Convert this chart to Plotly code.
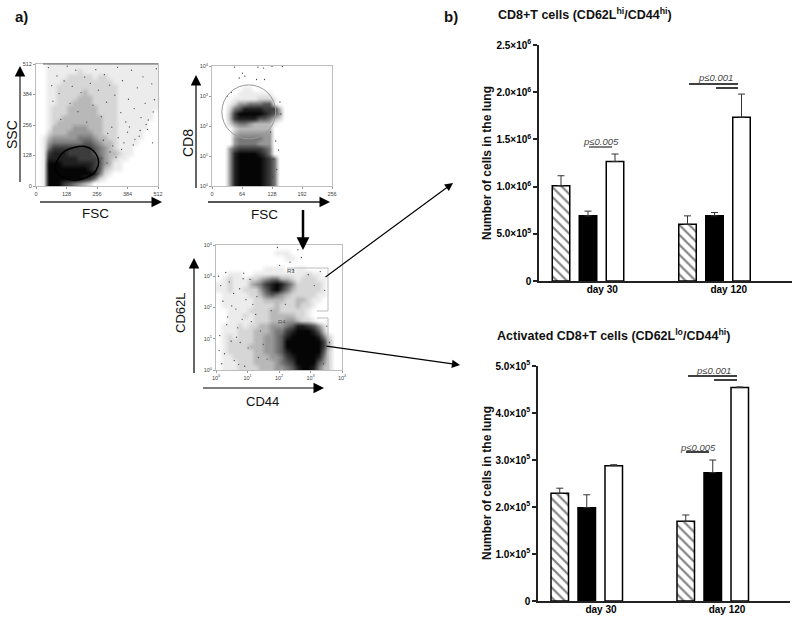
import plotly.graph_objects as go

W, H = 800, 619
FONT = "Liberation Sans"

# bar data
days = ["day 30", "day 120"]

memory_hatched = [1.01e6, 0.60e6]
memory_hatched_err = [0.105e6, 0.09e6]
memory_black = [0.69e6, 0.69e6]
memory_black_err = [0.05e6, 0.035e6]
memory_white = [1.265e6, 1.735e6]
memory_white_err = [0.08e6, 0.245e6]

activated_hatched = [2.29e5, 1.695e5]
activated_hatched_err = [0.11e5, 0.135e5]
activated_black = [1.985e5, 2.73e5]
activated_black_err = [0.275e5, 0.27e5]
activated_white = [2.88e5, 4.54e5]
activated_white_err = [0.02e5, 0.015e5]

memory_ticks = [0, 5e5, 1e6, 1.5e6, 2e6, 2.5e6]
memory_ticktext = ["0", "5.0×10<sup>5</sup>", "1.0×10<sup>6</sup>", "1.5×10<sup>6</sup>",
                   "2.0×10<sup>6</sup>", "2.5×10<sup>6</sup>"]
activated_ticks = [0, 1e5, 2e5, 3e5, 4e5, 5e5]
activated_ticktext = ["0", "1.0×10<sup>5</sup>", "2.0×10<sup>5</sup>", "3.0×10<sup>5</sup>",
                      "4.0×10<sup>5</sup>", "5.0×10<sup>5</sup>"]

# flow cytometry density, estimated by eye on a 24x24 grid, top row first (0 empty, 9 black)
ssc_fsc = [
    "001111111111111111111111",
    "001111112111111111111111",
    "001111222221221111111111",
    "001112222222222111111111",
    "001122222222222211111111",
    "001122222322222211111111",
    "001122223332222211111111",
    "001122233332222211111111",
    "001222333333222211111111",
    "001222333333222211111110",
    "001223333333322211111110",
    "001233333333322211111100",
    "001333344433322211111100",
    "002333444443322211111000",
    "013444445554332211111000",
    "014555555665433211110000",
    "015777777776543211100000",
    "017888777776543321100000",
    "018888887777643211000000",
    "019998888887643110000000",
    "019999999987632110000000",
    "019999999998521000000000",
    "019999999875210000000000",
    "019997654320000000000000",
]
cd8_fsc = [
    "000000000000000000000000",
    "000000000000000000000000",
    "000000000000000000000000",
    "000000000000000000000000",
    "000000110000000000000000",
    "000001111111000000000000",
    "000011111222100000000000",
    "000124455566100000000000",
    "000256888877730000000000",
    "000379999987640000000000",
    "000378888665320000000000",
    "000245543333100000000000",
    "000023333333000000000000",
    "000034444444000000000000",
    "000045555544000000000000",
    "000045555444000000000000",
    "000467777765000000000000",
    "000489999875000000000000",
    "000489999987500000000000",
    "000489999987500000000000",
    "000489999987500000000000",
    "000489999987500000000000",
    "000489999987500000000000",
    "000489999987500000000000",
]
cd62l_cd44 = [
    "000000000000000000000000",
    "000000000001110000000000",
    "000000000000011000000000",
    "000000000000000000000000",
    "000000000111100110000000",
    "001110011111111112110000",
    "012111223455332122211000",
    "112111345789864222221000",
    "112112224689753222221000",
    "011111223565432222211000",
    "011111122333322332110000",
    "011111122223222322100000",
    "001111222233222221000000",
    "001112122233333221000000",
    "001111122233344322100000",
    "011121223344456887642000",
    "011122233345578999863000",
    "012122233445689999985200",
    "012222233445699999997300",
    "012222333445699999997300",
    "012222233445689999996200",
    "011222233344578999985200",
    "011122233334567999964200",
    "011122223334456899853200",
]

# loose events picked out by hand, they give the sparse parts their grain
ssc_dots_x = [52, 66, 71, 88, 97, 104, 118, 131, 143, 152, 167, 176, 189, 204, 213, 228, 239, 251, 262, 274, 287,
              296, 309, 318, 331, 342, 356, 363, 377, 388, 401, 412, 425, 437, 449, 458, 471, 486, 497, 505,
              283, 301, 322, 345, 369, 392, 415, 441, 468, 492, 311, 336, 359, 384, 408, 433, 462, 489, 277, 298]
ssc_dots_y = [497, 421, 356, 462, 388, 279, 441, 503, 347, 418, 486, 312, 392, 457, 268, 431, 339, 488, 402, 291,
              467, 352, 423, 247, 381, 498, 308, 442, 269, 364, 486, 325, 412, 233, 458, 347, 277, 429, 362, 492,
              192, 221, 168, 203, 181, 248, 196, 287, 238, 311, 143, 121, 154, 226, 172, 209, 258, 181, 118, 97]
cd8_dots_x = [48, 65, 98, 110, 128, 150, 58, 95, 112, 70, 33, 41, 136, 142, 131, 138, 145, 129, 125, 147]
cd8_dots_y = [3.96, 3.76, 3.96, 3.93, 3.98, 3.98, 3.6, 3.55, 3.55, 3.66, 3.0, 3.12, 1.5, 1.2, 0.9, 0.55, 2.8, 0.3, 1.8, 2.4]
cd44_dots_x = [0.08, 0.15, 0.31, 0.42, 0.56, 0.22, 0.63, 0.75, 0.88, 0.37, 0.95, 1.08, 1.17, 0.69, 0.12, 0.48, 0.83,
               1.26, 1.02, 0.27, 0.58, 0.77, 1.35, 1.41, 0.18, 0.91, 0.34, 0.65, 1.12, 1.5, 1.62, 0.5, 0.1, 0.72,
               0.86, 1.3, 1.75, 1.88, 2.02, 2.2, 2.45, 2.71, 2.93, 3.12, 3.31, 3.45, 3.52, 3.41, 3.6, 2.6, 1.95, 2.35]
cd44_dots_y = [3.0, 2.7, 3.12, 2.82, 2.45, 2.2, 1.95, 2.6, 3.1, 1.7, 2.25, 2.9, 2.1, 1.35, 1.1, 0.92, 1.62, 1.78,
               0.7, 0.52, 0.3, 0.88, 0.4, 1.25, 0.2, 0.12, 1.45, 1.05, 1.55, 0.82, 0.35, 2.05, 0.62, 0.18, 2.92,
               2.35, 1.9, 2.48, 3.35, 2.1, 3.2, 3.6, 3.05, 2.7, 3.15, 2.55, 1.4, 0.2, 0.88, 3.85, 3.92, 3.45]

# hand traced gate on the SSC/FSC plot
gate_x = [80, 93, 121, 163, 205, 240, 261, 261, 240, 205, 163, 128, 100, 80]
gate_y = [76, 114, 146, 163, 166, 149, 114, 86, 51, 34, 23, 30, 44, 76]

log_ticks = [0, 1, 2, 3, 4]
log_ticktext = ["10<sup>0</sup>", "10<sup>1</sup>", "10<sup>2</sup>", "10<sup>3</sup>", "10<sup>4</sup>"]


def px(x):
    return x / W


def py(y):
    return 1 - y / H


fig = go.Figure()
shapes = []
annotations = []

gray_scale = [[0, "#ffffff"], [1 / 9, "#ececec"], [2 / 9, "#d6d6d6"], [3 / 9, "#b8b8b8"], [4 / 9, "#989898"],
              [5 / 9, "#787878"], [6 / 9, "#585858"], [7 / 9, "#3c3c3c"], [8 / 9, "#202020"], [1, "#050505"]]


def density_panel(n, grid, x0, x1, y0, y1, xrange, yrange, xticks, xtext, yticks, ytext):
    dx = (xrange[1] - xrange[0]) / 24
    dy = (yrange[1] - yrange[0]) / 24
    fig.add_trace(go.Heatmap(
        z=[[int(c) for c in row] for row in reversed(grid)],
        x0=xrange[0] + dx / 2, dx=dx, y0=yrange[0] + dy / 2, dy=dy,
        zmin=0, zmax=9, zsmooth="best", showscale=False, hoverinfo="skip",
        colorscale=gray_scale,
        xaxis=f"x{n}", yaxis=f"y{n}",
    ))
    common = dict(
        showgrid=False, zeroline=False, showline=True, mirror=True, linecolor="#bdbdbd", linewidth=1,
        ticks="outside", ticklen=2, tickwidth=1, tickcolor="#999999",
        tickfont=dict(family=FONT, size=5.5, color="#444444"),
    )
    fig.layout[f"xaxis{n}"] = dict(common, domain=[px(x0), px(x1)], range=xrange, anchor=f"y{n}",
                                   tickvals=xticks, ticktext=xtext, tickmode="array")
    fig.layout[f"yaxis{n}"] = dict(common, domain=[py(y1), py(y0)], range=yrange, anchor=f"x{n}",
                                   tickvals=yticks, ticktext=ytext, tickmode="array")


def dots(n, xs, ys):
    fig.add_trace(go.Scatter(x=xs, y=ys, mode="markers", marker=dict(color="#444444", size=1.3),
                             showlegend=False, hoverinfo="skip", xaxis=f"x{n}", yaxis=f"y{n}"))


def bar_panel(n, x0, x1, y0, y1, groups, ymax, ticks, ticktext, offset_px):
    cat_w = (x1 - x0) / 2
    for (vals, errs, style), off in zip(groups, offset_px):
        fig.add_trace(go.Bar(
            x=days, y=vals, width=17.5 / cat_w, offset=off / cat_w,
            marker=style, showlegend=False,
            error_y=dict(type="data", symmetric=False, array=errs, arrayminus=[0, 0],
                         color="#333333", thickness=1, width=3.5),
            xaxis=f"x{n}", yaxis=f"y{n}",
        ))
    fig.layout[f"xaxis{n}"] = dict(
        domain=[px(x0), px(x1)], anchor=f"y{n}", type="category", range=[-0.5, 1.5],
        showline=True, linecolor="#222222", linewidth=1.5, ticks="", showgrid=False, ticklabelstandoff=-2,
        tickfont=dict(family=FONT, size=10, color="black", weight="bold"),
    )
    fig.layout[f"yaxis{n}"] = dict(
        domain=[py(y1), py(y0)], anchor=f"x{n}", range=[0, ymax],
        showline=True, linecolor="#222222", linewidth=1.5, showgrid=False, zeroline=False,
        ticks="outside", ticklen=4, tickwidth=1.5, tickcolor="#222222",
        tickvals=ticks, ticktext=ticktext, tickmode="array",
        tickfont=dict(family=FONT, size=10, color="black", weight="bold"),
    )


def line(x0, y0, x1, y1, color="black", width=1.5):
    shapes.append(dict(type="line", xref="paper", yref="paper", x0=px(x0), y0=py(y0), x1=px(x1), y1=py(y1),
                       line=dict(color=color, width=width)))


def arrow(x0, y0, x1, y1, width=1.5, size=1.4, color="black"):
    annotations.append(dict(
        xref="paper", yref="paper", x=px(x1), y=py(y1), ax=x0 - x1, ay=y0 - y1, text="", showarrow=True,
        arrowhead=2, arrowsize=size, arrowwidth=width, arrowcolor=color,
    ))


def label(x, y, text, size=14, angle=0, bold=False, italic=False, color="#111111", xanchor="center"):
    annotations.append(dict(
        xref="paper", yref="paper", x=px(x), y=py(y), text=text, showarrow=False, textangle=angle,
        xanchor=xanchor, yanchor="middle",
        font=dict(family=FONT, size=size, color=color, weight="bold" if bold else "normal",
                  style="italic" if italic else "normal"),
    ))


fsc_ticks = [0, 128, 256, 384, 512]
density_panel(1, ssc_fsc, 36, 158, 64, 186, [0, 512], [0, 512], fsc_ticks, fsc_ticks, fsc_ticks, fsc_ticks)
density_panel(2, cd8_fsc, 212, 332, 66, 186, [0, 256], [0, 4], [0, 64, 128, 192, 256], [0, 64, 128, 192, 256],
              log_ticks, log_ticktext)
density_panel(3, cd62l_cd44, 216, 342, 245, 370, [0, 4], [0, 4], log_ticks, log_ticktext, log_ticks, log_ticktext)

dots(1, ssc_dots_x, ssc_dots_y)
dots(2, cd8_dots_x, cd8_dots_y)
dots(3, cd44_dots_x, cd44_dots_y)

fig.add_trace(go.Scatter(x=gate_x, y=gate_y, mode="lines", line=dict(color="black", width=1.5, shape="spline"),
                         showlegend=False, hoverinfo="skip", xaxis="x", yaxis="y"))

hatched = dict(color="white", line=dict(color="black", width=1.5),
               pattern=dict(shape="\\", fgcolor="black", bgcolor="white", size=7, solidity=0.3))
black = dict(color="black", line=dict(color="black", width=1.5))
white = dict(color="white", line=dict(color="black", width=1.5))

bar_panel(4, 539, 792, 45, 281,
          [(memory_hatched, memory_hatched_err, hatched), (memory_black, memory_black_err, black),
           (memory_white, memory_white_err, white)],
          2.5e6, memory_ticks, memory_ticktext, [-50, -23, 4])
bar_panel(5, 538, 790, 366, 601,
          [(activated_hatched, activated_hatched_err, hatched), (activated_black, activated_black_err, black),
           (activated_white, activated_white_err, white)],
          5e5, activated_ticks, activated_ticktext, [-50, -23, 4])

# flow panel arrows and captions
line(20, 182, 20, 74, color="#777777", width=2)
arrow(20, 76, 20, 66)
line(40, 202, 154, 202, color="#666666", width=2)
arrow(152, 202, 162, 202)
line(196, 188, 196, 82, color="#333333", width=1.5)
arrow(196, 85, 196, 75)
line(208, 202, 322, 202, color="#555555", width=2)
arrow(320, 202, 330, 202)
line(303, 210, 303, 240, width=2.5)
arrow(303, 238, 303, 250, width=3, size=0.85)
line(194, 373, 194, 266, color="#333333", width=1.5)
arrow(194, 268, 194, 258)
line(203, 388, 316, 388, width=1)
arrow(314, 388, 324, 388)
arrow(324, 278, 453, 183, width=1.2, size=1.35)
arrow(325, 346, 460, 365, width=1.2, size=1.35)

# R3 / R4 gates
for seg in [(287, 268, 328, 268), (328, 268, 328, 311), (328, 311, 317, 311), (317, 318, 328, 318), (328, 318, 328, 370)]:
    line(*seg, color="#bdbdbd", width=1)
line(43, 64, 158, 64, color="#666666", width=1)
shapes.append(dict(type="circle", xref="x2", yref="y2", x0=21, x1=136, y0=1.57, y1=3.37,
                   line=dict(color="#999999", width=1)))
label(291, 271, "R3", size=6, color="#444444")
label(282, 322, "R4", size=6, color="#555555")

label(12, 135, "SSC", size=14, angle=-90)
label(95, 213, "FSC", size=13.5)
label(188, 143, "CD8", size=14, angle=-90)
label(264, 214, "FSC", size=13.5)
label(180, 313, "CD62L", size=13, angle=-90)
label(262, 401, "CD44", size=13)
label(21, 17, "a)", size=15, bold=True)
label(451, 16, "b)", size=15, bold=True)

label(496, 14, "CD8+T cells (CD62L<sup>hi</sup>/CD44<sup>hi</sup>)", size=12.5, bold=True, xanchor="left")
label(495, 335, "Activated CD8+T cells (CD62L<sup>lo</sup>/CD44<sup>hi</sup>)", size=12.5, bold=True, xanchor="left")
label(487, 163, "Number of cells in the lung", size=12, bold=True, angle=-90)
label(487, 483, "Number of cells in the lung", size=12, bold=True, angle=-90)

# significance brackets
label(601, 142, "p≤0.005", size=9.5, italic=True, color="#444444")
line(589, 147, 612, 147, width=1)
label(715, 78, "p≤0.001", size=9.5, italic=True, color="#444444")
line(689, 84, 738, 84)
line(716, 88, 738, 88)
label(713, 370, "p≤0.001", size=9.5, italic=True, color="#444444")
line(688, 376, 737, 376)
line(714, 380, 737, 380)
label(698, 447, "p≤0.005", size=9.5, italic=True, color="#444444")
line(686, 452, 709, 452)

fig.update_layout(
    width=W, height=H, autosize=False,
    margin=dict(l=0, r=0, t=0, b=0, autoexpand=False),
    plot_bgcolor="white", paper_bgcolor="white",
    barmode="overlay", showlegend=False,
    shapes=shapes, annotations=annotations,
)

fig.write_html("out.html", config={"displayModeBar": False}, post_script="document.body.style.margin='0';")
